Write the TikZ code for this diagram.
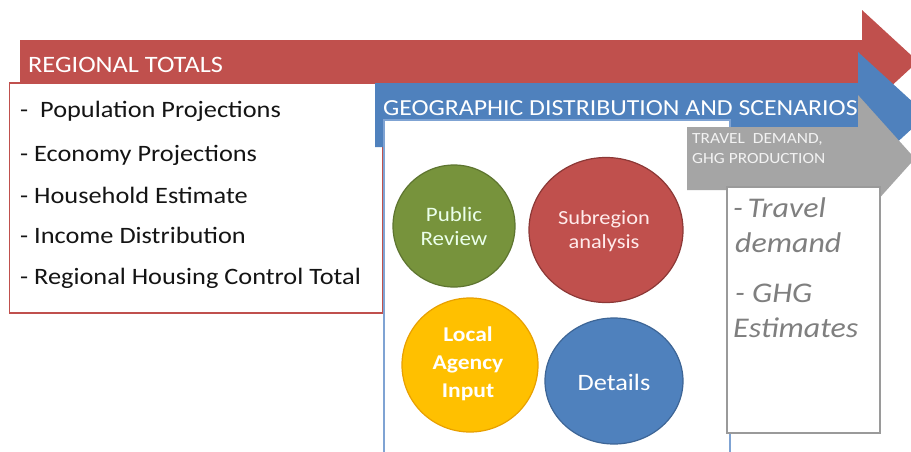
\documentclass[tikz,border=0pt]{standalone}
\usepackage{fontspec}
\setmainfont{Carlito}[FakeStretch=1.12]
\usetikzlibrary{shapes.geometric}
\definecolor{rred}{HTML}{C0504D}
\definecolor{rredd}{HTML}{8C3836}
\definecolor{bblue}{HTML}{4F81BD}
\definecolor{bblued}{HTML}{3D6596}
\definecolor{bbluel}{HTML}{7FA3D3}
\definecolor{ggrey}{HTML}{A5A5A5}
\definecolor{ggreyb}{HTML}{9A9A9A}
\definecolor{ggreen}{HTML}{77933C}
\definecolor{ggreend}{HTML}{5E7530}
\definecolor{yyel}{HTML}{FFC000}
\definecolor{yyeld}{HTML}{E8A000}
\definecolor{italgrey}{HTML}{7F7F7F}
\definecolor{listink}{HTML}{141414}
\tikzset{
  listtext/.style={anchor=base west, inner sep=0, font=\fontsize{23.5}{26}\selectfont, text=listink},
  bandtext/.style={anchor=base west, inner sep=0, text=white},
  bubble/.style={ellipse, inner sep=0, line width=1.2pt, align=center},
  outtext/.style={anchor=base west, inner sep=0, font=\fontsize{28.5}{32}\selectfont\itshape, text=italgrey}
}
\begin{document}
\begin{tikzpicture}[x=1pt,y=-1pt]
\useasboundingbox (0,0) rectangle (911,451);
\clip (0,0) rectangle (911,451);
% red arrow and its box
\fill[rred] (20,40) -- (862,40) -- (862,10) -- (918,61.5) -- (862,113) -- (862,83) -- (20,83) -- cycle;
\draw[rred, line width=1.5pt, fill=white] (9.5,83) rectangle (383,313);
% blue arrow and its box
\fill[bblue] (375,83) -- (858,83) -- (858,52) -- (927,115) -- (858,178) -- (858,147) -- (375,147) -- cycle;
\draw[bbluel, line width=2pt, fill=white] (384,120) rectangle (730,470);
% grey arrow and its box
\fill[ggrey] (687,127) -- (858,127) -- (858,95) -- (915,158.5) -- (858,222) -- (858,190) -- (687,190) -- cycle;
\draw[ggreyb, line width=2pt, fill=white] (727,187) rectangle (880,433);
% band titles
\node[bandtext, font=\fontsize{23.5}{26}\selectfont] (rt) at (28,72) {REGIONAL TOTALS};
\node[bandtext, font=\fontsize{23}{26}\selectfont] (gd) at (383,115) {GEOGRAPHIC DISTRIBUTION AND SCENARIOS};
\node[bandtext, font=\fontsize{15.5}{20}\selectfont, text=white!95!black] (td1) at (692,143) {TRAVEL\ \ DEMAND,};
\node[bandtext, font=\fontsize{15.5}{20}\selectfont, text=white!95!black] (td2) at (692,163) {GHG PRODUCTION};
% list
\node[listtext] (l1) at (20,117) {-\ \ Population Projections};
\node[listtext] (l2) at (20,161) {- Economy Projections};
\node[listtext] (l3) at (20,203) {- Household Estimate};
\node[listtext] (l4) at (20,243) {- Income Distribution};
\node[listtext] (l5) at (20,284) {- Regional Housing Control Total};
% bubbles
\node[bubble, fill=ggreen, draw=ggreend, minimum width=122pt, minimum height=122pt] (pub) at (454,226) {};
\node[bubble, fill=rred, draw=rredd, minimum width=154pt, minimum height=145pt] (sub) at (606,230) {};
\node[bubble, fill=yyel, draw=yyeld, minimum width=136pt, minimum height=134pt] (loc) at (470,365) {};
\node[bubble, fill=bblue, draw=bblued, minimum width=138pt, minimum height=126pt] (det) at (614,381) {};
\node[align=center, inner sep=0, font=\fontsize{20.5}{24}\selectfont, text=green!8!white] (pubt) at (454,226) {Public\\Review};
\node[align=center, inner sep=0, font=\fontsize{20}{24}\selectfont, text=red!8!white] (subt) at (604,231) {Subregion\\analysis};
\node[align=center, inner sep=0, font=\fontsize{21}{28}\selectfont\bfseries, text=white] (loct) at (468,364) {Local\\Agency\\Input};
\node[inner sep=0, font=\fontsize{23.5}{28}\selectfont, text=white] (dett) at (614,382) {Details};
% outputs
\node[outtext] (o1) at (733,217) {-\,Travel};
\node[outtext] (o2) at (735,252) {demand};
\node[outtext] (o3) at (735,302) {- GHG};
\node[outtext] (o4) at (733,337) {Estimates};
\end{tikzpicture}
\end{document}
